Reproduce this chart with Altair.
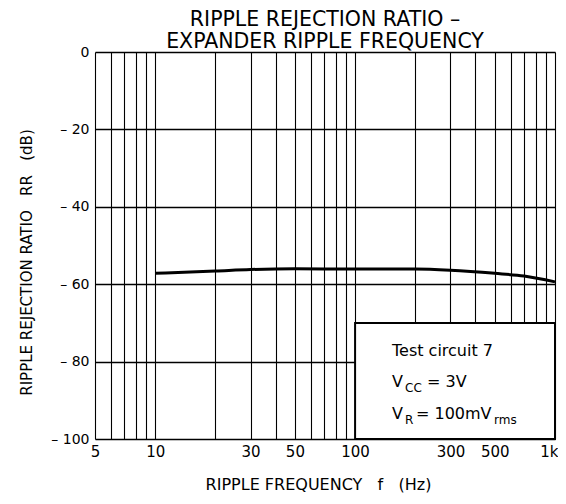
import altair as alt
import pandas as pd

# Curve data
freq = [10, 20, 30, 50, 100, 200, 300, 500, 700, 1000]
rr = [-57.2, -56.6, -56.2, -56.0, -56.1, -56.1, -56.4, -57.2, -57.9, -59.4]

# Axis grid values / labels
x_grid = [5, 6, 7, 8, 9, 10, 20, 30, 40, 50, 60, 70, 80, 90, 100,
          200, 300, 400, 500, 600, 700, 800, 900, 1000]
x_labeled = [5, 10, 30, 50, 100, 300, 500]
y_grid = [0, -10, -20, -30, -40, -50, -60, -70, -80, -90, -100]

# Legend box region (frequency / dB)
box_x = [100]
box_x2 = [1000]
box_y = [-100]
box_y2 = [-70]

FONT = "DejaVu Sans"
NB = "\u00a0"

df = pd.DataFrame({"f": freq, "rr": rr})
box_df = pd.DataFrame({"x": box_x, "x2": box_x2, "y": box_y, "y2": box_y2})

xscale = alt.Scale(type="log", domain=[5, 1000], nice=False)
yscale = alt.Scale(domain=[-100, 0], nice=False)

x_label_expr = (
    "datum.value == 1000 ? '1k' : (indexof(%s, datum.value) >= 0 ? toString(datum.value) : '')"
    % str(x_labeled)
)
y_label_expr = (
    "datum.value == 0 ? '0' : (datum.value %% 20 == 0 ? '\u2013%s' + toString(abs(datum.value)) : '')" % NB
)

xaxis = alt.Axis(
    values=x_grid, labelExpr=x_label_expr, ticks=False, domain=False,
    grid=True, gridColor="black", gridWidth=1.1, gridOpacity=1,
    labelFont=FONT, labelFontSize=15, labelColor="black", labelPadding=5,
    labelOverlap=False, labelFlush=False,
    labelAlign=alt.ConditionalAxisLabelAlign(
        condition={"test": "datum.value == 1000", "value": "right"}, value="center"
    ),
    labelOffset=alt.ConditionalAxisNumber(
        condition={"test": "datum.value == 1000", "value": 3}, value=0
    ),
    title="RIPPLE FREQUENCY" + NB * 3 + "f" + NB * 3 + "(Hz)",
    titleFont=FONT, titleFontSize=16, titleFontWeight="normal", titleColor="black",
    titleX=223, titleY=45, titleAlign="center", titleBaseline="middle",
)
yaxis = alt.Axis(
    values=y_grid, labelExpr=y_label_expr, ticks=False, domain=False,
    grid=True, gridColor="black", gridWidth=1.7, gridOpacity=1,
    labelFont=FONT, labelFontSize=14, labelColor="black", labelPadding=6,
    labelOverlap=False,
    title="RIPPLE REJECTION RATIO" + NB * 3 + "RR" + NB * 3 + "(dB)",
    titleFont=FONT, titleFontSize=15, titleFontWeight="normal", titleColor="black",
    titleX=-69, titleY=210, titleAngle=-90, titleAlign="center", titleBaseline="middle",
)

curve = alt.Chart(df).mark_line(color="black", strokeWidth=3, interpolate="monotone").encode(
    x=alt.X("f:Q", scale=xscale, axis=xaxis),
    y=alt.Y("rr:Q", scale=yscale, axis=yaxis),
)

box = alt.Chart(box_df).mark_rect(fill="white", stroke="black", strokeWidth=2).encode(
    x=alt.X("x:Q", scale=xscale), x2="x2:Q",
    y=alt.Y("y:Q", scale=yscale), y2="y2:Q",
)


def label(text, px, py, size):
    return alt.Chart(alt.Data(values=[{}])).mark_text(
        text=text, font=FONT, fontSize=size, color="black", align="left", baseline="middle"
    ).encode(x=alt.value(px), y=alt.value(py))


texts = [
    label("Test circuit 7", 297, 299, 16),
    label("V", 297, 330, 16),
    label("CC", 310, 336, 12),
    label("= 3V", 332, 330, 16),
    label("V", 297, 362, 16),
    label("R", 310, 368, 12),
    label("= 100mV", 321, 362, 16),
    label("rms", 399, 368, 12),
]

chart = alt.layer(box, curve, *texts).properties(
    width=460,
    height=387,
    title=alt.TitleParams(
        text=["RIPPLE REJECTION RATIO \u2013", "EXPANDER RIPPLE FREQUENCY"],
        font=FONT, fontSize=20.5, fontWeight="normal", color="black",
        anchor="middle", offset=4, lineHeight=22, dy=11,
    ),
    autosize=alt.AutoSizeParams(type="none"),
    padding={"left": 87, "top": 44, "right": 3, "bottom": 57},
).configure_view(stroke="black", strokeWidth=2.5).configure(background="white")

chart.save("out.html", embed_options={"renderer": "svg", "actions": False})
